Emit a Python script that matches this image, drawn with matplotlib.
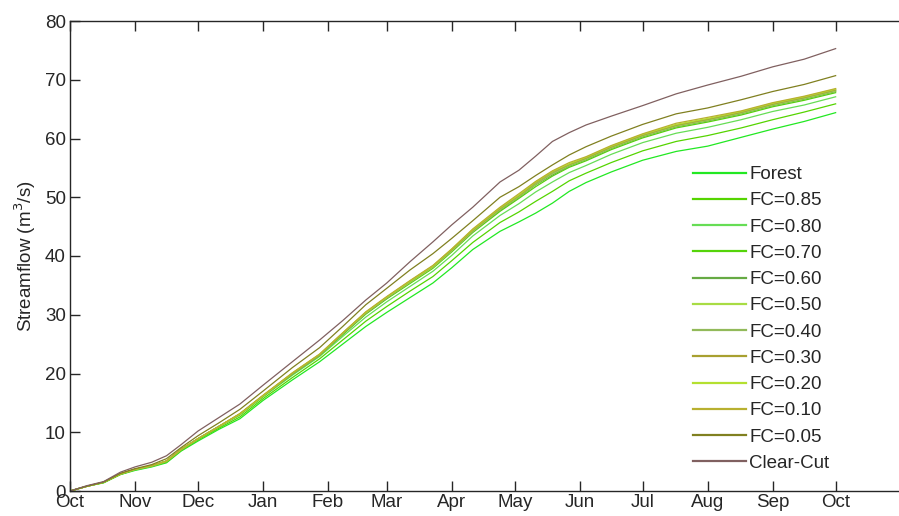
import matplotlib
matplotlib.use("Agg")
import matplotlib.pyplot as plt

plt.rcParams['font.family'] = ['Liberation Sans', 'DejaVu Sans']

# Days since 1 October (water year)
days = [0, 8, 16, 24, 31, 39, 46, 53, 61, 71, 81, 92, 106, 119, 130, 141, 151,
        162, 173, 182, 192, 205, 214, 222, 230, 238, 246, 258, 273, 289, 304,
        320, 335, 350, 365]

# Cumulative streamflow (m^3/s) for each forest-cover scenario
forest = [0, 0.8, 1.4, 2.8, 3.5, 4.1, 4.8, 6.8, 8.5, 10.5, 12.3, 15.4, 18.9, 22.0,
          25.0, 28.0, 30.4, 32.9, 35.4, 38.0, 41.1, 44.2, 45.8, 47.3, 49.0, 51.0,
          52.5, 54.3, 56.3, 57.8, 58.7, 60.2, 61.6, 62.9, 64.4]
fc085 = [0, 0.8, 1.4, 2.8, 3.6, 4.2, 4.9, 6.9, 8.7, 10.7, 12.6, 15.7, 19.3, 22.5,
         25.7, 28.9, 31.4, 34.0, 36.5, 39.2, 42.3, 45.7, 47.5, 49.3, 51.0, 52.8,
         54.1, 55.9, 57.9, 59.5, 60.5, 61.8, 63.2, 64.5, 65.9]
fc080 = [0, 0.8, 1.5, 2.9, 3.6, 4.2, 5.0, 7.0, 8.8, 10.9, 12.9, 16.0, 19.7, 22.9,
         26.3, 29.6, 32.2, 34.8, 37.4, 40.1, 43.4, 46.9, 48.9, 50.9, 52.6, 54.2,
         55.4, 57.3, 59.3, 60.9, 61.9, 63.2, 64.6, 65.7, 67.1]
fc070 = [0, 0.8, 1.5, 2.9, 3.7, 4.3, 5.1, 7.1, 8.9, 11.0, 13.0, 16.1, 19.9, 23.1,
         26.6, 30.1, 32.7, 35.3, 37.9, 40.7, 44.0, 47.6, 49.8, 51.8, 53.6, 55.1,
         56.2, 58.1, 60.1, 61.8, 62.8, 64.0, 65.4, 66.5, 67.8]
fc060 = [0, 0.8, 1.5, 2.9, 3.7, 4.3, 5.1, 7.1, 8.9, 11.0, 13.1, 16.2, 19.9, 23.1,
         26.7, 30.2, 32.8, 35.5, 38.1, 40.9, 44.1, 47.8, 50.0, 52.1, 53.8, 55.3,
         56.4, 58.3, 60.3, 62.0, 63.0, 64.2, 65.6, 66.7, 68.0]
fc050 = [0, 0.8, 1.5, 2.9, 3.7, 4.3, 5.1, 7.1, 8.9, 11.0, 13.1, 16.2, 20.0, 23.2,
         26.8, 30.3, 32.9, 35.5, 38.1, 40.9, 44.2, 47.9, 50.1, 52.2, 54.0, 55.4,
         56.5, 58.4, 60.4, 62.1, 63.1, 64.3, 65.7, 66.8, 68.1]
fc040 = [0, 0.8, 1.5, 2.9, 3.7, 4.3, 5.1, 7.1, 8.9, 11.0, 13.1, 16.2, 20.0, 23.2,
         26.8, 30.3, 32.9, 35.6, 38.2, 41.0, 44.3, 48.0, 50.2, 52.3, 54.1, 55.5,
         56.6, 58.5, 60.5, 62.2, 63.2, 64.4, 65.8, 66.9, 68.2]
fc030 = [0, 0.8, 1.5, 2.9, 3.7, 4.3, 5.1, 7.1, 8.9, 11.0, 13.1, 16.2, 20.0, 23.2,
         26.9, 30.4, 33.0, 35.7, 38.3, 41.1, 44.4, 48.1, 50.3, 52.5, 54.3, 55.6,
         56.7, 58.6, 60.6, 62.3, 63.3, 64.5, 65.9, 67.0, 68.3]
fc020 = [0, 0.8, 1.5, 2.9, 3.7, 4.3, 5.1, 7.1, 8.9, 11.0, 13.1, 16.2, 20.1, 23.3,
         26.9, 30.4, 33.0, 35.7, 38.3, 41.2, 44.5, 48.2, 50.4, 52.6, 54.4, 55.7,
         56.8, 58.7, 60.7, 62.4, 63.4, 64.6, 66.0, 67.1, 68.4]
fc010 = [0, 0.8, 1.5, 2.9, 3.7, 4.3, 5.1, 7.1, 8.9, 11.0, 13.2, 16.3, 20.1, 23.3,
         26.9, 30.5, 33.1, 35.8, 38.4, 41.2, 44.6, 48.3, 50.6, 52.7, 54.5, 55.9,
         56.9, 58.8, 60.8, 62.6, 63.6, 64.7, 66.1, 67.2, 68.5]
fc005 = [0, 0.8, 1.5, 3.0, 3.8, 4.5, 5.5, 7.4, 9.4, 11.6, 13.9, 17.0, 21.0, 24.4,
         28.0, 31.7, 34.5, 37.6, 40.4, 43.0, 46.0, 50.0, 51.8, 53.7, 55.5, 57.2,
         58.6, 60.4, 62.4, 64.2, 65.2, 66.6, 68.0, 69.2, 70.7]
clearcut = [0, 0.9, 1.6, 3.2, 4.1, 4.9, 6.0, 7.9, 10.2, 12.5, 14.8, 18.0, 22.0, 25.7,
            29.0, 32.5, 35.4, 39.0, 42.4, 45.3, 48.3, 52.6, 54.6, 57.0, 59.5, 61.0,
            62.3, 63.8, 65.6, 67.6, 69.1, 70.6, 72.2, 73.5, 75.3]

labels = ['Forest', 'FC=0.85', 'FC=0.80', 'FC=0.70', 'FC=0.60', 'FC=0.50',
          'FC=0.40', 'FC=0.30', 'FC=0.20', 'FC=0.10', 'FC=0.05', 'Clear-Cut']
series = [forest, fc085, fc080, fc070, fc060, fc050, fc040, fc030, fc020,
          fc010, fc005, clearcut]
colors = ['#22e822', '#55d400', '#66dd55', '#55d40a', '#66aa44', '#a8dc44',
          '#92ba5a', '#a8a030', '#b4e030', '#b8b030', '#808020', '#806060']

month_days = [0, 31, 61, 92, 123, 151, 182, 212, 243, 273, 304, 335, 365]
month_labels = ['Oct', 'Nov', 'Dec', 'Jan', 'Feb', 'Mar', 'Apr', 'May', 'Jun',
                'Jul', 'Aug', 'Sep', 'Oct']
y_ticks = [0, 10, 20, 30, 40, 50, 60, 70, 80]

FS = 13.5
INK = '#262626'

fig = plt.figure(figsize=(8.99, 5.16), dpi=100)
ax = fig.add_axes([70 / 899, 25 / 516, 881 / 899, 470 / 516])

for vals, lab, col in zip(series, labels, colors):
    ax.plot(days, vals, color=col, lw=0.9, label=lab)

ax.set_xlim(0, 420)
ax.set_ylim(0, 80)
ax.set_xticks(month_days)
ax.set_xticklabels(month_labels)
ax.set_yticks(y_ticks)
ax.tick_params(direction='in', length=7, width=1, labelsize=FS, colors=INK,
               top=True, right=True, pad=3)
ax.tick_params(axis='x', pad=2)
for s in ax.spines.values():
    s.set_color(INK)
    s.set_linewidth(1)
ax.set_ylabel('Streamflow (m$^3$/s)', fontsize=FS, color=INK, labelpad=5)

leg = ax.legend(loc='upper left', bbox_to_anchor=(693 / 899, 1 - 166 / 516),
                bbox_transform=fig.transFigure, frameon=False, fontsize=FS,
                handlelength=2.8, handletextpad=0.2, labelspacing=0.487,
                borderpad=0, borderaxespad=0)
for t in leg.get_texts():
    t.set_color(INK)
for h in leg.get_lines():
    h.set_linewidth(1.6)

fig.savefig('out.png', dpi=100)
